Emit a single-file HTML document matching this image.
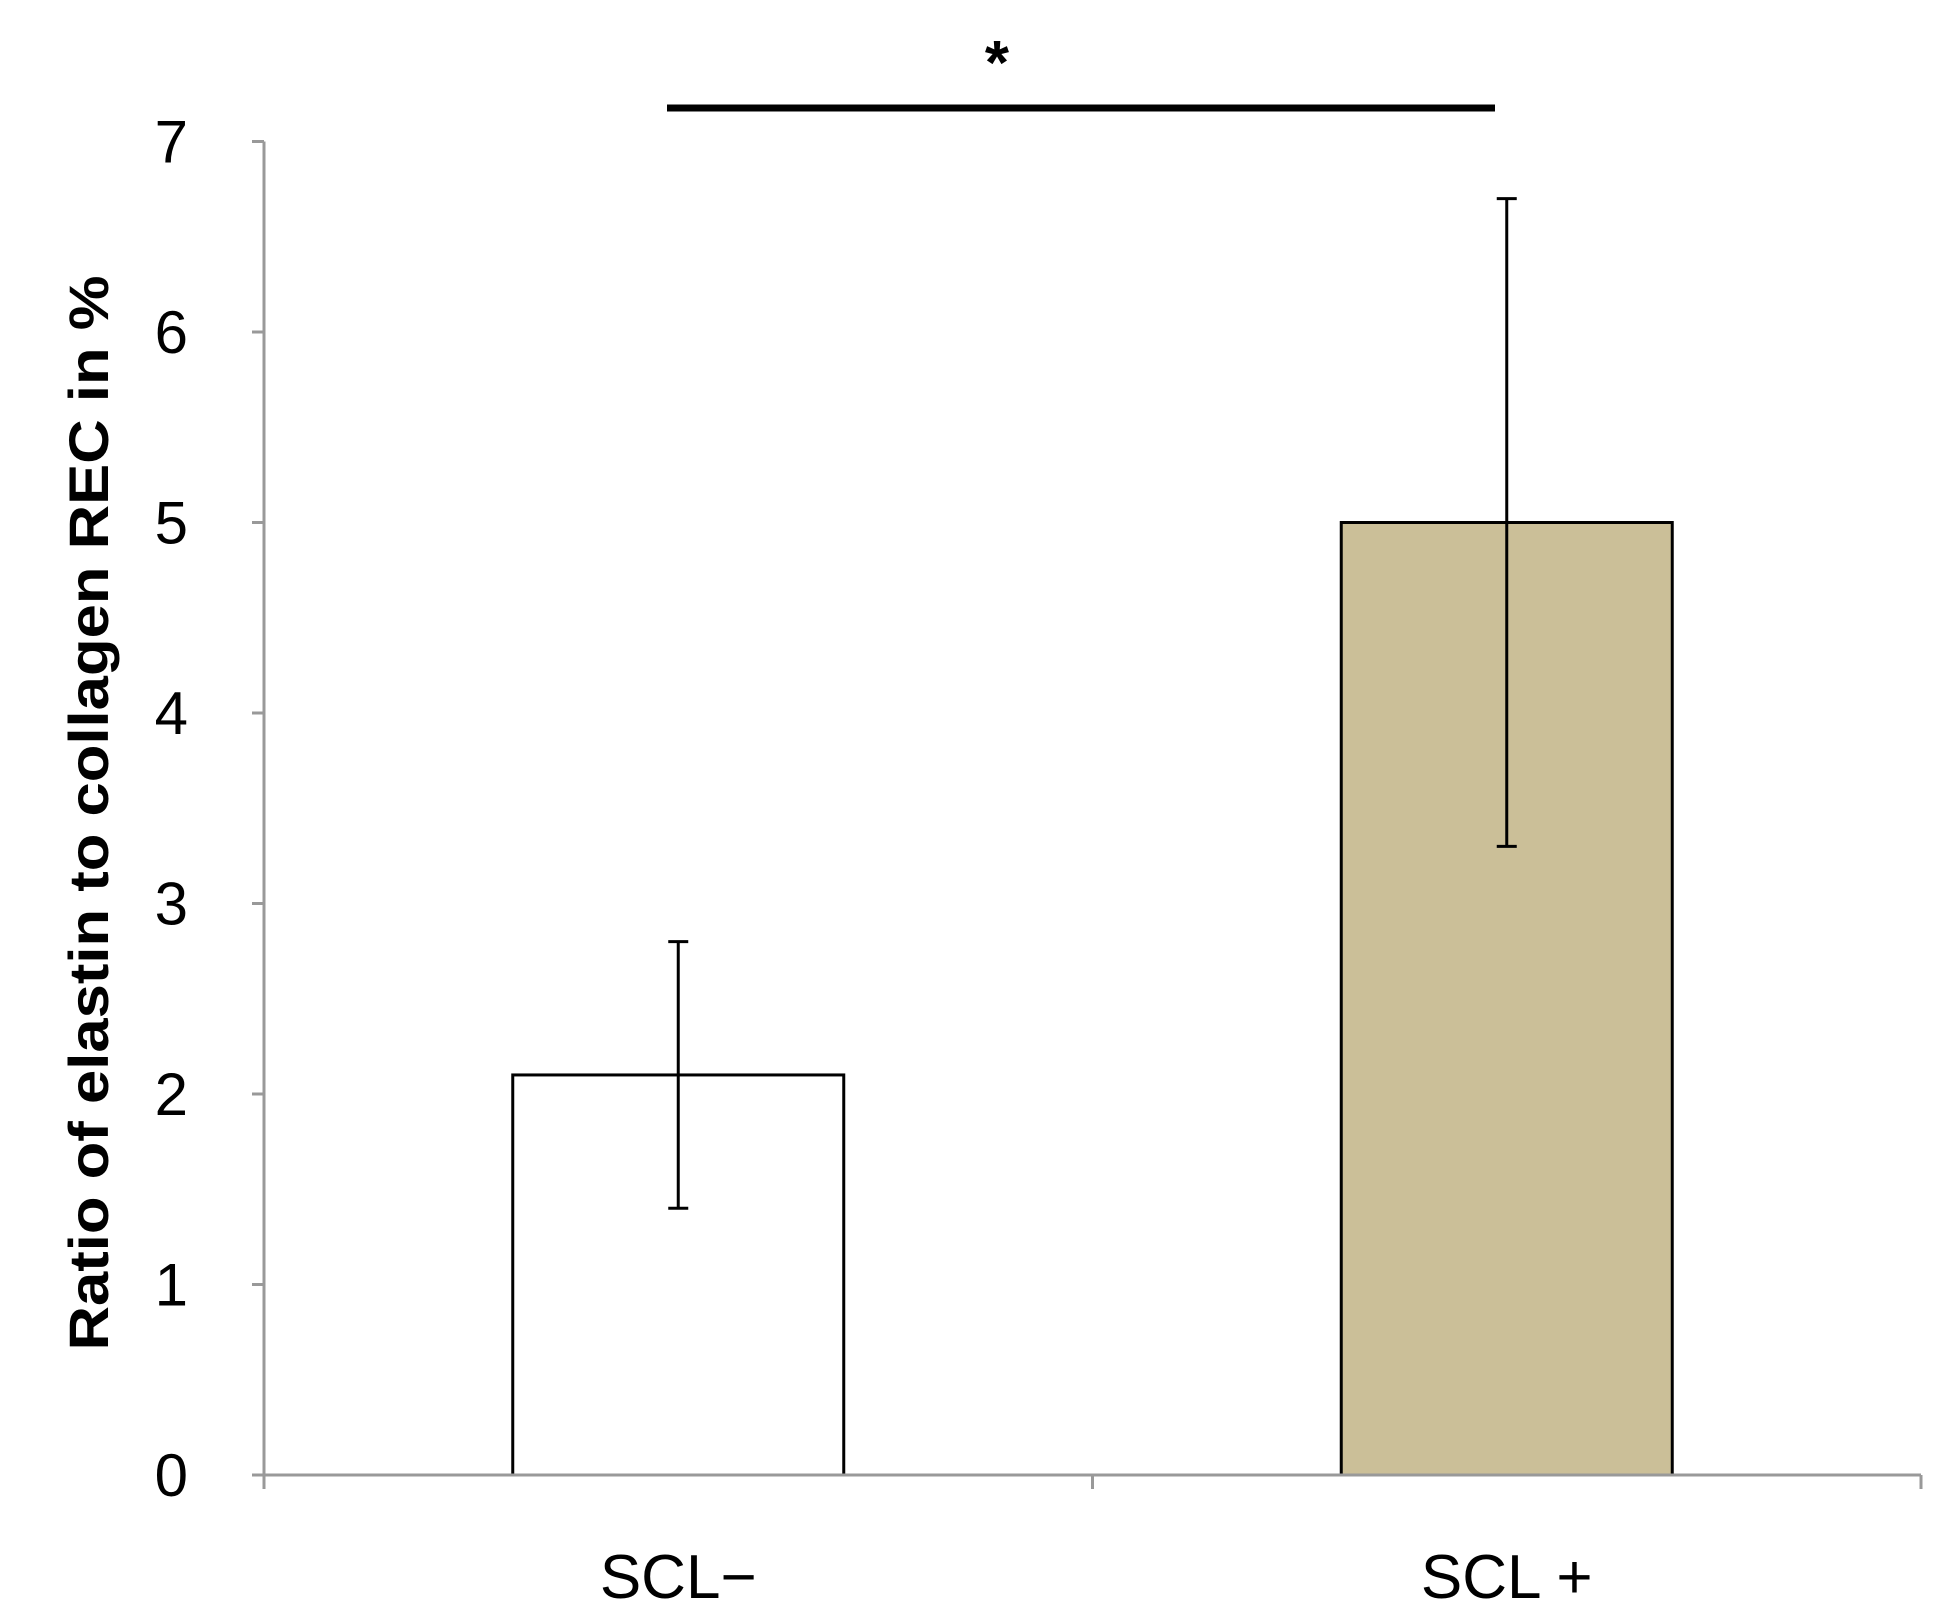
<!DOCTYPE html>
<html><head><meta charset="utf-8"><style>
html,body{margin:0;padding:0;background:#fff;}
svg{display:block;font-family:"Liberation Sans",sans-serif;}
</style></head><body>
<svg id="chart" width="1954" height="1621" viewBox="0 0 1954 1621">
<g id="g"></g>
</svg>
<script>
const categories = ["SCL\u2212", "SCL +"];
const values = [2.1, 5.0];
const errLow = [1.4, 3.3];
const errHigh = [2.8, 6.7];
const fills = ["#ffffff", "#cbbf98"];
const yTicks = [0, 1, 2, 3, 4, 5, 6, 7];

const X0 = 264, X1 = 1921, Y0 = 1475, Y7 = 141.5;
const NS = "http://www.w3.org/2000/svg";
const g = document.getElementById('g');
function y(v){ return Y0 - (v / 7) * (Y0 - Y7); }
const band = (X1 - X0) / categories.length;
function xc(i){ return X0 + band * (i + 0.5); }
const barW = 331;
function el(t, a){ const e = document.createElementNS(NS, t); for (const k in a) e.setAttribute(k, a[k]); g.appendChild(e); return e; }

let ax = el('line', {x1:X0, y1:Y7, x2:X0, y2:Y0, stroke:'#999', 'stroke-width':3});


yTicks.forEach(v => {
  const t = el('line', {x1:X0-12, y1:y(v), x2:X0, y2:y(v), stroke:'#999', 'stroke-width':3});
  
  
  const l = el('text', {x:188, y:y(v)+21, 'text-anchor':'end', 'font-size':60, fill:'#000'});
  l.textContent = v;
  
  
});

categories.forEach((c, i) => {
  const cx = xc(i);
  const b = el('rect', {x:cx-barW/2, y:y(values[i]), width:barW, height:Y0-y(values[i]), fill:fills[i], stroke:'#000', 'stroke-width':3});
  
  
  const e = el('path', {d:`M${cx},${y(errLow[i])}V${y(errHigh[i])}M${cx-10},${y(errLow[i])}H${cx+10}M${cx-10},${y(errHigh[i])}H${cx+10}`, stroke:'#000', 'stroke-width':3, fill:'none'});
  
  
  const l = el('text', {x:cx, y:1598, 'text-anchor':'middle', 'font-size':62, fill:'#000'});
  l.textContent = c;
  
  
});

let xa = el('line', {x1:X0-12, y1:Y0, x2:X1, y2:Y0, stroke:'#999', 'stroke-width':3});


[0, 1, 2].forEach(i => {
  const t = el('line', {x1:X0+band*i, y1:Y0, x2:X0+band*i, y2:Y0+14, stroke:'#999', 'stroke-width':3});
  
  
});

let s = el('line', {x1:667, y1:108, x2:1495, y2:108, stroke:'#000', 'stroke-width':7});


let st = el('text', {x:997, y:84, 'text-anchor':'middle', 'font-size':62, 'font-weight':'bold', fill:'#000'});
st.textContent = '*';



let yt = el('text', {x:0, y:0, transform:'translate(108,813) rotate(-90)', 'text-anchor':'middle', 'font-size':56, 'font-weight':'bold', fill:'#000', textLength:1075, lengthAdjust:'spacingAndGlyphs'});
yt.textContent = 'Ratio of elastin to collagen REC in %';


</script>
</body></html>
